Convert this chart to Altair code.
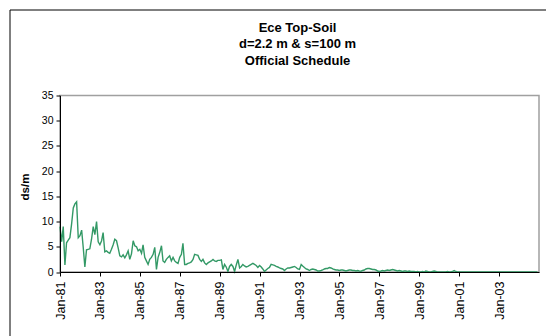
import altair as alt
import pandas as pd

# Monthly electrical conductivity of the top soil (ds/m), Jan 1981 - Dec 2004
years = list(range(1981, 2005))

ec_1981 = [9.0, 6.0, 9.0, 1.4, 5.8, 6.3, 6.8, 9.5, 12.7, 13.5, 13.9, 6.8]
ec_1982 = [7.2, 8.3, 5.0, 1.0, 4.4, 4.5, 4.6, 6.5, 9.0, 7.4, 10.0, 6.0]
ec_1983 = [5.4, 6.2, 7.8, 4.0, 4.2, 3.9, 3.7, 4.5, 5.4, 6.5, 6.2, 4.8]
ec_1984 = [3.2, 3.0, 3.4, 2.8, 3.4, 4.2, 2.5, 3.6, 6.2, 5.2, 5.0, 4.2]
ec_1985 = [4.5, 3.7, 5.4, 2.9, 2.2, 1.5, 2.5, 2.9, 3.5, 4.9, 0.5, 2.9]
ec_1986 = [3.9, 5.2, 2.2, 1.9, 2.5, 2.9, 3.2, 2.2, 2.9, 2.2, 1.9, 1.7]
ec_1987 = [2.9, 3.5, 5.7, 1.5, 1.5, 1.7, 1.8, 2.0, 2.5, 3.5, 3.4, 3.3]
ec_1988 = [2.5, 2.1, 2.5, 1.8, 1.5, 1.8, 2.0, 2.2, 2.5, 2.2, 2.1, 2.3]
ec_1989 = [2.3, 2.4, 0.5, 1.5, 1.0, 0.1, 1.1, 1.5, 1.1, 0.1, 1.4, 2.5]
ec_1990 = [0.8, 1.1, 1.5, 1.2, 1.0, 1.1, 1.3, 1.5, 1.7, 1.5, 1.3, 0.9]
ec_1991 = [1.3, 1.0, 0.6, 0.1, 0.4, 0.7, 0.9, 1.5, 1.4, 1.3, 1.1, 1.0]
ec_1992 = [0.8, 0.7, 0.6, 0.3, 0.6, 0.8, 0.8, 0.9, 1.0, 1.1, 0.9, 0.6]
ec_1993 = [0.5, 1.5, 1.2, 0.9, 0.6, 0.5, 0.3, 0.5, 0.6, 0.5, 0.4, 0.2]
ec_1994 = [0.2, 0.3, 0.4, 0.6, 0.7, 0.7, 0.9, 0.8, 0.6, 0.5, 0.4, 0.4]
ec_1995 = [0.3, 0.4, 0.4, 0.3, 0.2, 0.3, 0.4, 0.4, 0.3, 0.3, 0.2, 0.3]
ec_1996 = [0.2, 0.15, 0.3, 0.4, 0.6, 0.7, 0.7, 0.6, 0.5, 0.5, 0.4, 0.2]
ec_1997 = [0.1, 0.2, 0.3, 0.2, 0.3, 0.4, 0.3, 0.4, 0.5, 0.4, 0.3, 0.2]
ec_1998 = [0.3, 0.2, 0.1, 0.2, 0.2, 0.1, 0.2, 0.1, 0.1, 0.1, 0.0, 0.1]
ec_1999 = [0.0, 0.0, 0.1, 0.0, 0.2, 0.1, 0.0, 0.0, 0.1, 0.2, 0.1, 0.0]
ec_2000 = [0.0, 0.0, 0.0, 0.0, 0.0, 0.1, 0.0, 0.0, 0.1, 0.3, 0.1, 0.0]
ec_2001 = [0.0] * 12
ec_2002 = [0.0] * 12
ec_2003 = [0.0] * 12
ec_2004 = [0.0] * 12

yearly = [ec_1981, ec_1982, ec_1983, ec_1984, ec_1985, ec_1986, ec_1987, ec_1988,
          ec_1989, ec_1990, ec_1991, ec_1992, ec_1993, ec_1994, ec_1995, ec_1996,
          ec_1997, ec_1998, ec_1999, ec_2000, ec_2001, ec_2002, ec_2003, ec_2004]

tick_years = [1981, 1983, 1985, 1987, 1989, 1991, 1993, 1995, 1997, 1999, 2001, 2003]
y_ticks = [0, 5, 10, 15, 20, 25, 30, 35]
title_lines = ["Ece Top-Soil", "d=2.2 m & s=100 m", "Official Schedule"]

rows = []
for yr, vals in zip(years, yearly):
    for m, v in enumerate(vals, start=1):
        rows.append({"date": f"{yr}-{m:02d}-01", "ec": v})
df = pd.DataFrame(rows)

FONT = "Liberation Sans"

line = alt.Chart(df).mark_line(color="#339966", strokeWidth=1.4).encode(
    x=alt.X(
        "date:T",
        scale=alt.Scale(
            type="utc",
            domain=[alt.DateTime(year=1981, month=1, date=1, utc=True),
                    alt.DateTime(year=2005, month=1, date=1, utc=True)],
        ),
        axis=alt.Axis(
            title=None,
            values=[alt.DateTime(year=y, month=1, date=1, utc=True) for y in tick_years],
            format="%b-%y",
            labelAngle=270,
            labelAlign="right",
            labelBaseline="middle",
            labelPadding=5,
            labelFlush=False,
            labelOverlap=False,
            labelFontSize=12.5,
            tickSize=4,
            grid=False,
            zindex=1,
        ),
    ),
    y=alt.Y(
        "ec:Q",
        scale=alt.Scale(domain=[0, 35], nice=False),
        axis=alt.Axis(
            title="ds/m",
            values=y_ticks,
            labelFontSize=10.5,
            labelPadding=3,
            tickSize=4,
            grid=False,
            zindex=1,
            titleFontSize=11.5,
            titleFontWeight="bold",
            titleX=-32,
            titleY=91,
            titleAlign="center",
            titleBaseline="alphabetic",
        ),
    ),
)

single = alt.Data(values=[{"k": 0}])

# chart-area frame (left and top edges)
frame_left = alt.Chart(single).mark_rule(color="black", strokeWidth=1).encode(
    x=alt.value(-50), y=alt.value(-85.5), y2=alt.value(260)
)
frame_top = alt.Chart(single).mark_rule(color="black", strokeWidth=1).encode(
    x=alt.value(-50), x2=alt.value(500), y=alt.value(-85.5)
)

# three-line chart heading
heading = alt.Chart(single).mark_text(
    text=title_lines,
    font=FONT,
    fontSize=13,
    fontWeight="bold",
    color="black",
    align="center",
    baseline="alphabetic",
    lineHeight=16.7,
).encode(x=alt.value(237.5), y=alt.value(-63.8))

chart = (
    alt.layer(frame_left, frame_top, heading, line)
    .properties(
        width=479,
        height=176.5,
        padding={"left": 60, "top": 95.5, "right": 7, "bottom": 64},
        autosize=alt.AutoSizeParams(type="none"),
    )
    .configure(font=FONT, background="white")
    .configure_view(stroke="#a0a0a0", strokeWidth=1.5)
    .configure_axis(
        labelFont=FONT,
        titleFont=FONT,
        labelColor="black",
        titleColor="black",
        domainColor="black",
        tickColor="black",
        domainWidth=1,
        tickWidth=1,
    )
)

chart.save("out.html", embed_options={"renderer": "svg", "actions": False})
